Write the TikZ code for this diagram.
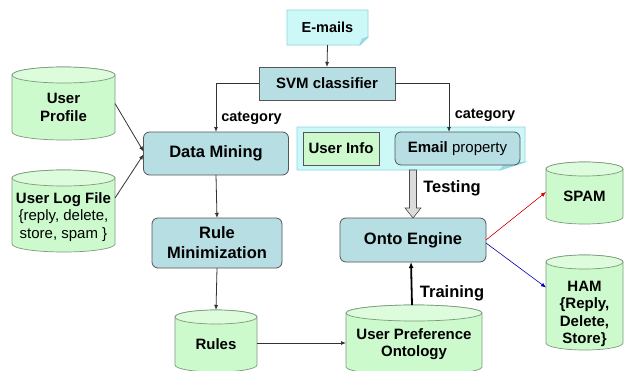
\documentclass[tikz,border=0pt]{standalone}
\usepackage{fontspec}
\setmainfont{Liberation Sans}
\usetikzlibrary{arrows.meta,calc,backgrounds}
\definecolor{boxblue}{HTML}{B7DEE3}
\definecolor{cylgreen}{HTML}{CCFACC}
\definecolor{cyltopc}{HTML}{DCFCDC}
\definecolor{cylline}{HTML}{7E9A7E}
\definecolor{notecyan}{HTML}{CCF8F8}
\definecolor{noteline}{HTML}{8AD6E2}
\definecolor{foldc}{HTML}{9ADCE4}
\definecolor{linec}{HTML}{333333}
\definecolor{boxline}{HTML}{555555}

\newcommand\mycyl[8]{%
  \node[minimum width=#4pt, minimum height=#5pt] (#1) at (#2,#3) {};
  \path[cylbody] let \p1=(#1.south west), \p2=(#1.north east) in
    (\x1,\y2-#6pt) -- (\x1,\y1+#6pt)
    arc[start angle=180,end angle=360,x radius={(\x2-\x1)/2},y radius=#6pt]
    -- (\x2,\y2-#6pt)
    arc[start angle=0,end angle=180,x radius={(\x2-\x1)/2},y radius=#6pt] -- cycle;
  \path[cyltop] let \p1=(#1.south west), \p2=(#1.north east) in
    ({(\x1+\x2)/2},\y2-#6pt) ellipse[x radius={(\x2-\x1)/2},y radius=#6pt];
  \node[cyltext] (#1-t) at ([yshift={-0.5*#6pt-#8pt}]#1.center) {#7};
}

\begin{document}
\begin{tikzpicture}[x=1pt,y=-1pt,
  every node/.style={inner sep=0pt, outer sep=0pt},
  conn/.style={draw=linec, line width=0.8pt, -{Latex[length=5pt,width=4pt]}},
  bluebox/.style={draw=boxline, fill=boxblue, rounded corners=6pt, line width=0.8pt,
     font=\bfseries\fontsize{16.5}{20}\selectfont, align=center},
  cylbody/.style={fill=cylgreen, draw=cylline, line width=0.7pt},
  cyltop/.style={fill=cyltopc, draw=cylline, line width=0.7pt},
  cyltext/.style={font=\bfseries\fontsize{15}{17.5}\selectfont, align=center},
  lbl/.style={font=\bfseries\fontsize{14.5}{17}\selectfont},
  biglbl/.style={font=\bfseries\fontsize{16.5}{19}\selectfont},
  notefill/.style={fill=notecyan, draw=noteline, line width=0.8pt},
  foldfill/.style={fill=foldc, draw=noteline, line width=0.6pt}
]
\useasboundingbox (0,0) rectangle (626,370);

% top
\node[minimum width=81pt, minimum height=35pt, font=\bfseries\fontsize{14.5}{17}\selectfont] (emails) at (327.5,27.5) {E-mails};
\node[draw=boxline, fill=boxblue, line width=0.8pt, minimum width=136pt, minimum height=33pt,
      font=\bfseries\fontsize{15}{18}\selectfont] (svm) at (327,83.5) {SVM classifier};

% main boxes
\node[bluebox, minimum width=145pt, minimum height=43pt] (dm) at (216,153.5) {Data Mining};
\node[bluebox, minimum width=130pt, minimum height=50pt] (rm) at (217,243) {Rule\\Minimization};
\node[bluebox, minimum width=146pt, minimum height=44pt] (onto) at (413,240) {Onto Engine};

% container
\node[minimum width=228pt, minimum height=43pt] (cont) at (411,148.5) {};
\node[draw=boxline, fill=cylgreen, line width=0.8pt, minimum width=76pt, minimum height=33pt,
      font=\bfseries\fontsize{15}{18}\selectfont] (uinfo) at (341,148.5) {User Info};
\node[draw=boxline, fill=boxblue, rounded corners=6pt, line width=0.8pt, minimum width=125pt, minimum height=33pt,
      font=\fontsize{15}{18}\selectfont] (eprop) at (457.5,148.5) {\textbf{Email} property};

\begin{scope}[on background layer]
  \path[notefill] let \p1=(emails.south west), \p2=(emails.north east) in
    (\x1,\y1) -- (\x1,\y2) -- (\x2,\y2) -- (\x2,\y1+8pt) -- (\x2-8pt,\y1) -- cycle;
  \path[foldfill] let \p1=(emails.south west), \p2=(emails.north east) in
    (\x2,\y1+8pt) -- (\x2-8pt,\y1) -- (\x2-6pt,\y1+6pt) -- cycle;
  \path[notefill] let \p1=(cont.south west), \p2=(cont.north east) in
    (\x1,\y1) -- (\x1,\y2) -- (\x2,\y2) -- (\x2,\y1+8pt) -- (\x2-25pt,\y1) -- cycle;
  \path[foldfill] let \p1=(cont.south west), \p2=(cont.north east) in
    (\x2,\y1+8pt) -- (\x2-25pt,\y1) -- (\x2-20pt,\y1+6pt) -- cycle;
\end{scope}

% cylinders
\mycyl{profile}{63.5}{103.5}{103}{73}{8}{User\\Profile}{0}
\mycyl{logfile}{63.5}{211}{103}{82}{8}{User Log File\\\mdseries\{reply, delete,\\\mdseries store, spam \}}{2}
\mycyl{rules}{216}{341}{82}{62}{7}{Rules}{0}
\mycyl{upo}{414}{340}{136}{70}{8}{User Preference\\Ontology}{0}
\mycyl{spam}{584.5}{193}{77}{62}{7}{SPAM}{0}
\mycyl{ham}{584.5}{302.5}{77}{95}{7}{HAM\\\{Reply,\\Delete,\\Store\}}{8}

% labels
\node[lbl] (cat1) at (251.5,118) {category};
\node[lbl] (cat2) at (485,115) {category};
\node[biglbl] (testing) at (452,188) {Testing};
\node[biglbl] (training) at (452,293) {Training};

% connectors
\draw[conn] (emails.south) -- (svm.north);
\draw[conn] (svm.west) -| (dm.north);
\draw[conn] (svm.east) -| ([xshift=-8.5pt]eprop.north);
\draw[conn] (profile.east) -- ([yshift=2pt]dm.west);
\draw[conn] ([yshift=13pt]logfile.east) -- ([yshift=-1pt]dm.west);
\draw[conn] (dm.south) -- (rm.north);
\draw[conn] (rm.south) -- (rules.north);
\draw[conn] ([yshift=-2pt]rules.east) -- ([yshift=-2pt]rules.east -| upo.west);
\draw[draw=black, line width=1.8pt, -{Latex[length=6pt,width=5pt]}] ([xshift=-2pt]upo.north) -- ([xshift=-2pt]onto.south);
\draw[fill=gray!28, draw=gray!60!black, line width=0.6pt] let \p1=(cont.south), \p2=(onto.north) in
  (\x2-3.5pt,\y1) -- (\x2-3.5pt,\y2+10pt) -- (\x2-8pt,\y2+10pt) -- (\x2,\y2) --
  (\x2+8pt,\y2+10pt) -- (\x2+3.5pt,\y2+10pt) -- (\x2+3.5pt,\y1) -- cycle;
\draw[conn, draw=red!85!black, line width=0.6pt] (onto.east) -- ([yshift=1pt]spam.west);
\draw[conn, draw=blue!70!black, line width=0.6pt] ([yshift=-3pt]onto.east) -- ([yshift=15pt]ham.west);
\end{tikzpicture}
\end{document}
